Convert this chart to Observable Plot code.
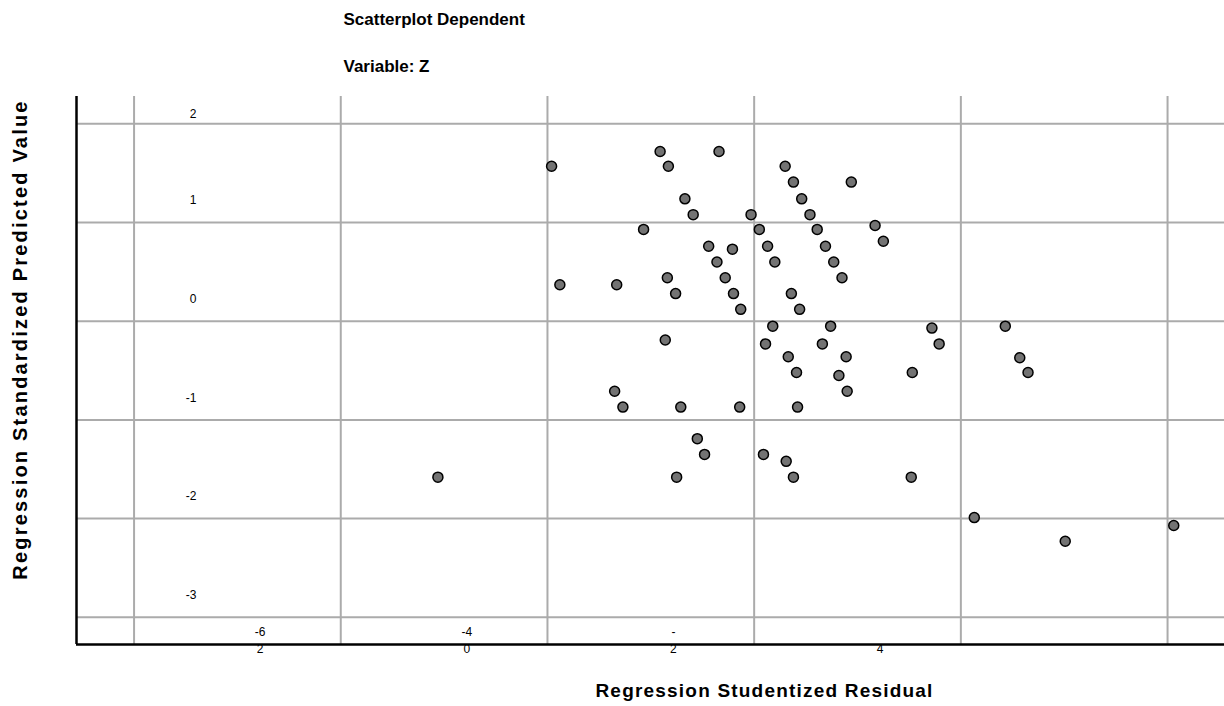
<!DOCTYPE html>
<html>
<head>
<meta charset="utf-8">
<script src="https://cdn.jsdelivr.net/npm/d3@7"></script>
<script src="https://cdn.jsdelivr.net/npm/@observablehq/plot@0.6"></script>
<style>
  html, body { margin: 0; padding: 0; background: #fff; }
  #chart { width: 1224px; height: 706px; }
</style>
</head>
<body>
<div id="chart"></div>
<script>
// Regression Studentized Residual (x) for each case
const residual = [
  0.04, 1.09, 1.66, 1.17, 2.30, 2.38, 2.94, 1.33, 2.46, 1.41,
  1.97, 2.54, 0.93, 2.05, 2.61, 3.17, 3.25, 1.56, 1.79, 2.13,
  2.69, 1.64, 2.20, 2.77, 0.12, 0.67, 1.16, 1.72, 2.85, 1.24,
  1.80, 2.36, 1.87, 2.44, 2.18, 2.74, 3.72, 4.43, 1.14, 2.11,
  2.66, 3.79, 2.33, 2.89, 4.57, 2.41, 2.82, 3.53, 4.65, 0.65,
  2.90, 0.73, 1.29, 1.86, 2.42, 1.45, 1.52, 2.09, 2.31, 1.25,
  2.38, 3.52, -1.06, 4.13, 5.01, 6.06
];
// Regression Standardized Predicted Value (y) for each case
const predicted = [
  1.57, 1.72, 1.72, 1.57, 1.57, 1.41, 1.41, 1.24, 1.24, 1.08,
  1.08, 1.08, 0.93, 0.93, 0.93, 0.97, 0.81, 0.76, 0.73, 0.76,
  0.76, 0.60, 0.60, 0.60, 0.37, 0.37, 0.44, 0.44, 0.44, 0.28,
  0.28, 0.28, 0.12, 0.12, -0.05, -0.05, -0.07, -0.05, -0.19, -0.23,
  -0.23, -0.23, -0.36, -0.36, -0.37, -0.52, -0.55, -0.52, -0.52, -0.71,
  -0.71, -0.87, -0.87, -0.87, -0.87, -1.19, -1.35, -1.35, -1.42, -1.58,
  -1.58, -1.58, -1.58, -1.99, -2.23, -2.07
];

// Grid / tick values
const xGrid = [-4, -2, 0, 2, 4, 6];
const xDomain = [-4.557, 6.551];
const yTicks = [2, 1, 0, -1, -2, -3];
const yDomain = [-3.276, 2.277];

// X tick labels (as they appear: two stacked lines)
const xTickAt = [-4, -2, 0, 2];
const xTickTop = ["-6", "-4", "-", ""];
const xTickBottom = ["2", "0", "2", "4"];

const titleLine1 = "Scatterplot Dependent";
const titleLine2 = "Variable: Z";
const xTitle = "Regression Studentized Residual";
const yTitle = "Regression Standardized Predicted Value";

const points = residual.map((r, i) => ({x: r, y: predicted[i]}));

const bold = {fontWeight: "bold", fill: "black", lineAnchor: "middle"};
const tick = {fontSize: 12, fill: "black", lineAnchor: "middle"};

const chart = Plot.plot({
  width: 1224,
  height: 706,
  marginLeft: 76,
  marginRight: 0,
  marginTop: 96,
  marginBottom: 62,
  style: {fontFamily: "'Liberation Sans', Arial, sans-serif", background: "white", color: "black"},
  x: {domain: xDomain, axis: null},
  y: {domain: yDomain, axis: null},
  marks: [
    Plot.ruleX(xGrid, {stroke: "#ababab", strokeWidth: 2}),
    Plot.ruleY(yTicks, {stroke: "#ababab", strokeWidth: 2}),
    Plot.ruleX([xDomain[0]], {stroke: "black", strokeWidth: 2.5}),
    Plot.ruleY([yDomain[0]], {stroke: "black", strokeWidth: 2.5}),
    Plot.dot(points, {x: "x", y: "y", r: 5, fill: "#737373", stroke: "black", strokeWidth: 1.5}),
    // y tick labels
    Plot.text(yTicks.slice(0, 1), {y: d => d, frameAnchor: "left", dx: 120, dy: -10, textAnchor: "end", text: d => String(d), ...tick}),
    Plot.text(yTicks.slice(1), {y: d => d, frameAnchor: "left", dx: 120, dy: -22, textAnchor: "end", text: d => String(d), ...tick}),
    // x tick labels
    Plot.text(xTickAt, {x: d => d, frameAnchor: "bottom", dx: 126, dy: -12, textAnchor: "middle", text: (d, i) => xTickTop[i], ...tick}),
    Plot.text(xTickAt, {x: d => d, frameAnchor: "bottom", dx: 126, dy: 5, textAnchor: "middle", text: (d, i) => xTickBottom[i], ...tick}),
    // titles
    Plot.text([titleLine1], {frameAnchor: "top-left", dx: 267, dy: -77, textAnchor: "start", text: d => d, fontSize: 17, ...bold}),
    Plot.text([titleLine2], {frameAnchor: "top-left", dx: 267, dy: -30, textAnchor: "start", text: d => d, fontSize: 17, ...bold}),
    Plot.text([xTitle], {frameAnchor: "bottom", dx: 114, dy: 46, textAnchor: "middle", text: d => d, fontSize: 19, ...bold}),
    Plot.text([yTitle], {frameAnchor: "left", dx: -56, dy: -31, rotate: -90, textAnchor: "middle", text: d => d, fontSize: 20, ...bold})
  ]
});
// slightly stretched axis titles, as in the original export
d3.select(chart).selectAll("text")
  .filter(function () { return this.textContent === xTitle; })
  .style("letter-spacing", "1.2px");
d3.select(chart).selectAll("text")
  .filter(function () { return this.textContent === yTitle; })
  .style("letter-spacing", "2.2px");
document.getElementById("chart").appendChild(chart);
</script>
</body>
</html>
